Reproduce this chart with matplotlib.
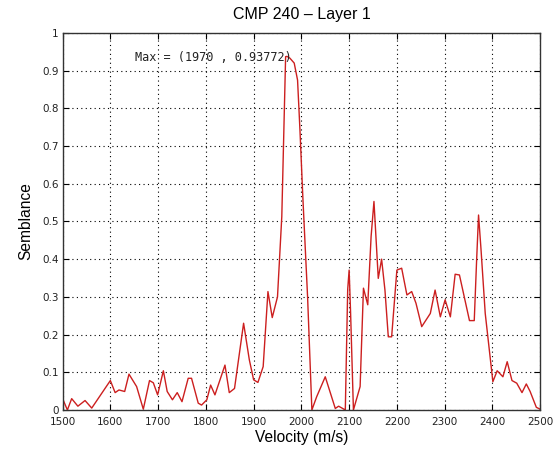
import matplotlib
matplotlib.use("Agg")
import matplotlib.pyplot as plt

velocity = [1500, 1510, 1519, 1532, 1547, 1561, 1600, 1610, 1618, 1630, 1639, 1655, 1669,
            1682, 1690, 1699, 1711, 1719, 1730, 1740, 1750, 1763, 1770, 1784, 1791, 1802,
            1810, 1819, 1840, 1849, 1860, 1879, 1891, 1900, 1909, 1920, 1930, 1939, 1950,
            1959, 1967, 1970, 1976, 1985, 1992, 1997, 2003, 2013, 2022, 2032, 2050, 2071,
            2078, 2092, 2097, 2100, 2103, 2109, 2123, 2130, 2139, 2146, 2152, 2161, 2168,
            2175, 2182, 2189, 2200, 2210, 2221, 2231, 2240, 2252, 2270, 2280, 2291, 2301,
            2312, 2322, 2331, 2352, 2362, 2367, 2371, 2376, 2385, 2401, 2410, 2422, 2431,
            2441, 2451, 2462, 2471, 2479, 2492, 2500]
semblance = [0.03, 0.0, 0.03, 0.01, 0.025, 0.005, 0.078, 0.046, 0.053, 0.049, 0.095, 0.062, 0.002,
             0.078, 0.072, 0.04, 0.104, 0.049, 0.027, 0.046, 0.022, 0.084, 0.084, 0.018, 0.013, 0.027,
             0.066, 0.04, 0.119, 0.046, 0.057, 0.23, 0.133, 0.08, 0.073, 0.115, 0.314, 0.245, 0.30,
             0.513, 0.937, 0.93772, 0.933, 0.92, 0.875, 0.743, 0.566, 0.30, 0.0, 0.035, 0.088, 0.004,
             0.01, 0.0, 0.32, 0.371, 0.26, 0.0, 0.062, 0.323, 0.279, 0.46, 0.553, 0.349, 0.40,
             0.318, 0.194, 0.194, 0.371, 0.376, 0.305, 0.314, 0.283, 0.221, 0.256, 0.318, 0.247, 0.292,
             0.247, 0.36, 0.358, 0.237, 0.237, 0.398, 0.517, 0.429, 0.256, 0.075, 0.104, 0.088, 0.128,
             0.078, 0.071, 0.046, 0.069, 0.049, 0.007, 0.002]
max_v = 1970
max_s = 0.93772
x_ticks = [1500, 1600, 1700, 1800, 1900, 2000, 2100, 2200, 2300, 2400, 2500]
y_ticks = [0, 0.1, 0.2, 0.3, 0.4, 0.5, 0.6, 0.7, 0.8, 0.9, 1]
y_tick_labels = ["0", "0.1", "0.2", "0.3", "0.4", "0.5", "0.6", "0.7", "0.8", "0.9", "1"]

fig = plt.figure(figsize=(5.54, 4.51), dpi=100)
ax = fig.add_axes([0.113, 0.091, 0.862, 0.836])
ax.plot(velocity, semblance, color="#cc1f1f", linewidth=1.0)
ax.set_xlim(1500, 2500)
ax.set_ylim(0, 1)
ax.set_xticks(x_ticks)
ax.set_yticks(y_ticks)
ax.set_yticklabels(y_tick_labels)
ax.tick_params(direction="in", top=True, right=True, length=4, width=0.8,
               labelsize=7.5, colors="black")
ax.tick_params(axis="x", pad=5)
ax.tick_params(axis="y", pad=3)
for lab in ax.get_xticklabels() + ax.get_yticklabels():
    lab.set_family("DejaVu Sans")
    lab.set_color("#222222")
ax.grid(True, color="black", linestyle=(0, (1, 3)), linewidth=0.8)
for sp in ax.spines.values():
    sp.set_linewidth(1.0)
    sp.set_color("#333333")

ax.set_title("CMP 240 \u2013 Layer 1", fontsize=11.5, family="Liberation Sans", pad=10)
ax.set_xlabel("Velocity (m/s)", fontsize=11.2, family="Liberation Sans", labelpad=2)
ax.set_ylabel("Semblance", fontsize=11.2, family="Liberation Sans", labelpad=6)

ax.text(1652, 0.936, "Max = (%d , %.5f)" % (max_v, max_s), fontsize=8.6,
        family="DejaVu Sans Mono", ha="left", va="center", color="#222222")

fig.savefig("out.png", dpi=100)
